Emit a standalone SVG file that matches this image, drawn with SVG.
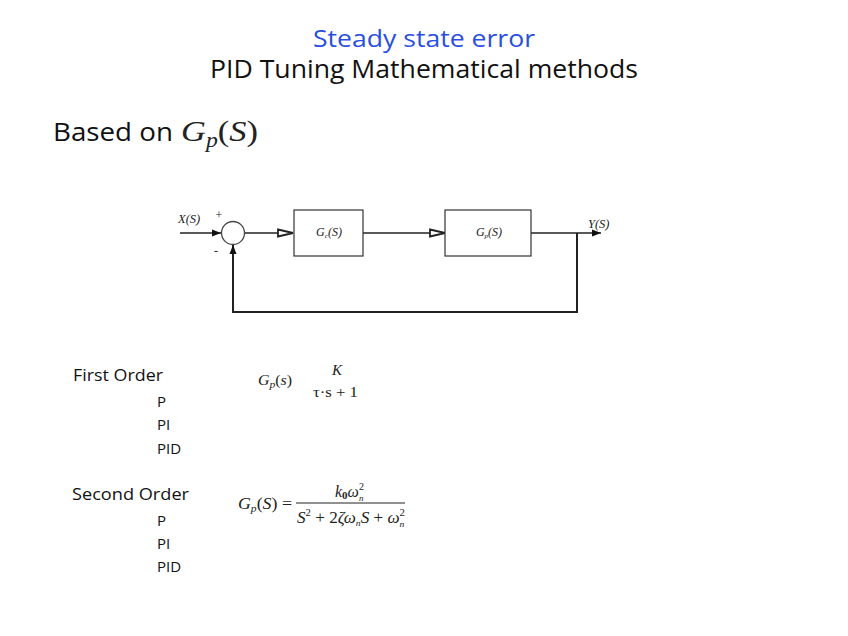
<svg xmlns="http://www.w3.org/2000/svg" width="848" height="636" viewBox="0 0 848 636">
<defs>
<style>
.t{font-family:"Open Sans","Liberation Sans",sans-serif;fill:#111}
.m{font-family:"Liberation Serif",serif;font-style:italic;fill:#222}
.r{font-family:"Liberation Serif",serif;fill:#222}
.ln{stroke:#222;stroke-width:1.3;fill:none}
.box{stroke:#333;stroke-width:1.2;fill:#fff}
</style>
<marker id="open" markerWidth="18" markerHeight="10" refX="16" refY="5" orient="auto" markerUnits="userSpaceOnUse">
<path d="M1,1.5 L16,5 L1,8.5 Z" fill="#fff" stroke="#222" stroke-width="1.8"/>
</marker>
<marker id="solid" markerWidth="10" markerHeight="8" refX="9" refY="4" orient="auto" markerUnits="userSpaceOnUse">
<path d="M0,0.5 L9,4 L0,7.5 Z" fill="#111"/>
</marker>
</defs>
<rect width="848" height="636" fill="#fff"/>
<g id="title">
<text x="424" y="47" text-anchor="middle" class="t" style="fill:#2a4fe0" font-size="24" textLength="222" lengthAdjust="spacingAndGlyphs">Steady state error</text>
<text x="424" y="78" text-anchor="middle" class="t" font-size="25" textLength="428" lengthAdjust="spacingAndGlyphs">PID Tuning Mathematical methods</text>
</g>
<g id="heading">
<text x="53" y="141" class="t" font-size="26" textLength="120" lengthAdjust="spacingAndGlyphs">Based on</text>
<text x="181" y="141" class="m" font-size="29" textLength="77" lengthAdjust="spacingAndGlyphs">G<tspan font-size="20" dy="6">p</tspan><tspan dy="-6" style="font-style:normal">(</tspan>S<tspan style="font-style:normal">)</tspan></text>
</g>
<g id="connectors">
<line class="ln" x1="180" y1="233" x2="221" y2="233" marker-end="url(#solid)"/>
<line class="ln" x1="245" y1="233" x2="293" y2="233" marker-end="url(#open)"/>
<line class="ln" x1="363" y1="233" x2="445" y2="233" marker-end="url(#open)"/>
<line class="ln" x1="531" y1="233" x2="601" y2="233" marker-end="url(#solid)"/>
<polyline class="ln" style="stroke-width:2" points="577,233 577,312 233,312 233,245" marker-end="url(#solid)"/>
</g>
<g id="sum">
<circle cx="233" cy="233" r="11.5" fill="#fff" stroke="#444" stroke-width="1.3"/>
<text x="219" y="219" class="r" font-size="12" text-anchor="middle">+</text>
<text x="216" y="255" class="r" font-size="12" text-anchor="middle">-</text>
</g>
<g id="input">
<text x="178" y="223" class="m" font-size="12.5">X(S)</text>
</g>
<g id="output">
<text x="588" y="228" class="m" font-size="12.5">Y(S)</text>
</g>
<g id="gc">
<rect class="box" x="294" y="210" width="69" height="46"/>
<text x="329" y="236" class="m" font-size="12" text-anchor="middle">G<tspan font-size="7" dy="2">c</tspan><tspan dy="-2">(S)</tspan></text>
</g>
<g id="gp">
<rect class="box" x="445" y="210" width="86" height="46"/>
<text x="489" y="236" class="m" font-size="12" text-anchor="middle">G<tspan font-size="7" dy="2">p</tspan><tspan dy="-2">(S)</tspan></text>
</g>
<g id="lists">
<text x="73" y="381" class="t" font-size="16" textLength="90" lengthAdjust="spacingAndGlyphs">First Order</text>
<text x="157" y="407" class="t" font-size="15">P</text>
<text x="157" y="430" class="t" font-size="15">PI</text>
<text x="157" y="454" class="t" font-size="15">PID</text>
<text x="72" y="500" class="t" font-size="16" textLength="117" lengthAdjust="spacingAndGlyphs">Second Order</text>
<text x="157" y="526" class="t" font-size="15">P</text>
<text x="157" y="549" class="t" font-size="15">PI</text>
<text x="157" y="572" class="t" font-size="15">PID</text>
</g>
<g id="formula1">
<text x="258" y="385" class="m" font-size="15" textLength="34" lengthAdjust="spacingAndGlyphs">G<tspan font-size="11" dy="3">p</tspan><tspan dy="-3" style="font-style:normal">(</tspan>s<tspan style="font-style:normal">)</tspan></text>
<text x="337" y="375" class="m" font-size="15" text-anchor="middle">K</text>
<text x="313" y="397" class="r" font-size="15" textLength="45" lengthAdjust="spacingAndGlyphs">τ·s + 1</text>
</g>
<g id="formula2">
<text x="238" y="509" class="m" font-size="17" textLength="54" lengthAdjust="spacingAndGlyphs">G<tspan font-size="11" dy="3">p</tspan><tspan dy="-3" style="font-style:normal">(</tspan>S<tspan style="font-style:normal">) =</tspan></text>
<text x="335" y="497" class="m" font-size="16">k<tspan font-size="11" dy="2" style="font-style:normal;font-weight:bold">0</tspan><tspan dy="-2">ω</tspan><tspan font-size="10" dy="-7" style="font-style:normal">2</tspan><tspan font-size="9" dx="-5" dy="11">n</tspan></text>
<line x1="296" y1="503" x2="405" y2="503" stroke="#222" stroke-width="1"/>
<text x="297" y="523" class="m" font-size="16" textLength="108" lengthAdjust="spacingAndGlyphs">S<tspan font-size="10" dy="-7" style="font-style:normal">2</tspan><tspan dy="7" style="font-style:normal"> + 2</tspan>ζω<tspan font-size="9" dy="3">n</tspan><tspan dy="-3">S</tspan><tspan style="font-style:normal"> + </tspan>ω<tspan font-size="10" dy="-7" style="font-style:normal">2</tspan><tspan font-size="9" dx="-5" dy="11">n</tspan></text>
</g>
</svg>
